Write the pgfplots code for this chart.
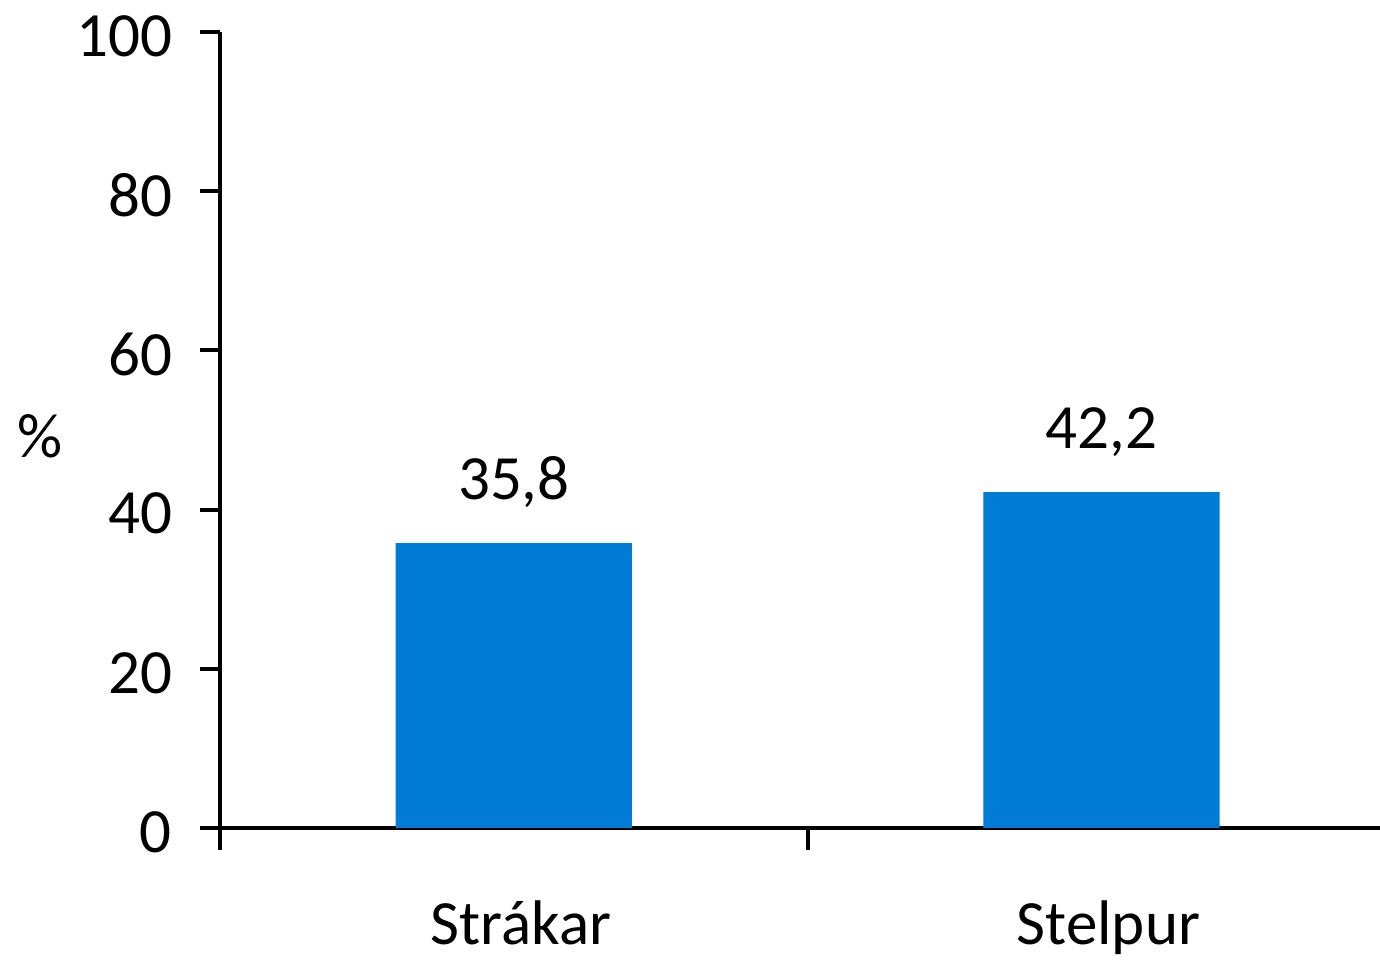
\documentclass[border=0pt]{standalone}
\usepackage{pgfplots}
\pgfplotsset{compat=1.18}
\usepackage{fontspec}
\setmainfont{Carlito}
\definecolor{barblue}{HTML}{007CD6}
\newcommand{\chartfont}{\fontsize{31.5}{37}\selectfont}
\begin{document}
\begin{tikzpicture}
\begin{axis}[
  at={(0,0)}, anchor=south west,
  scale only axis,
  width=580pt, height=398pt,
  xmin=0.5, xmax=2.474,
  ymin=0, ymax=100,
  ytick={0,20,...,100},
  xtick={1,2},
  xticklabels={Strákar,Stelpur},
  minor xtick={0.5,1.5},
  major x tick style={draw=none},
  tick align=outside,
  major tick length=10pt,
  minor tick length=11pt,
  axis x line*=bottom,
  axis y line*=left,
  separate axis lines,
  x axis line style={-, line width=2pt},
  y axis line style={-, line width=2pt, shorten <=-11pt},
  every tick/.style={black, line width=2pt},
  tick label style={font=\chartfont},
  xticklabel style={inner sep=0pt, yshift=-26pt, xshift=3.5pt},
  yticklabel style={xshift=-10.5pt, yshift=-2pt},
  /pgf/number format/assume math mode=true,
  ybar, bar width=0.402,
  point meta=explicit symbolic,
  nodes near coords,
  nodes near coords style={font=\chartfont, yshift=14pt},
  clip=false,
]
\addplot[fill=barblue, draw=none] coordinates {(1,35.8) [35,8] (2,42.2) [42,2]};
\end{axis}
\node[font=\chartfont] at (-90pt,196pt) {\%};
\pgfresetboundingbox
\useasboundingbox (-110pt,-66.5pt) rectangle (580pt,414pt);
\end{tikzpicture}
\end{document}
